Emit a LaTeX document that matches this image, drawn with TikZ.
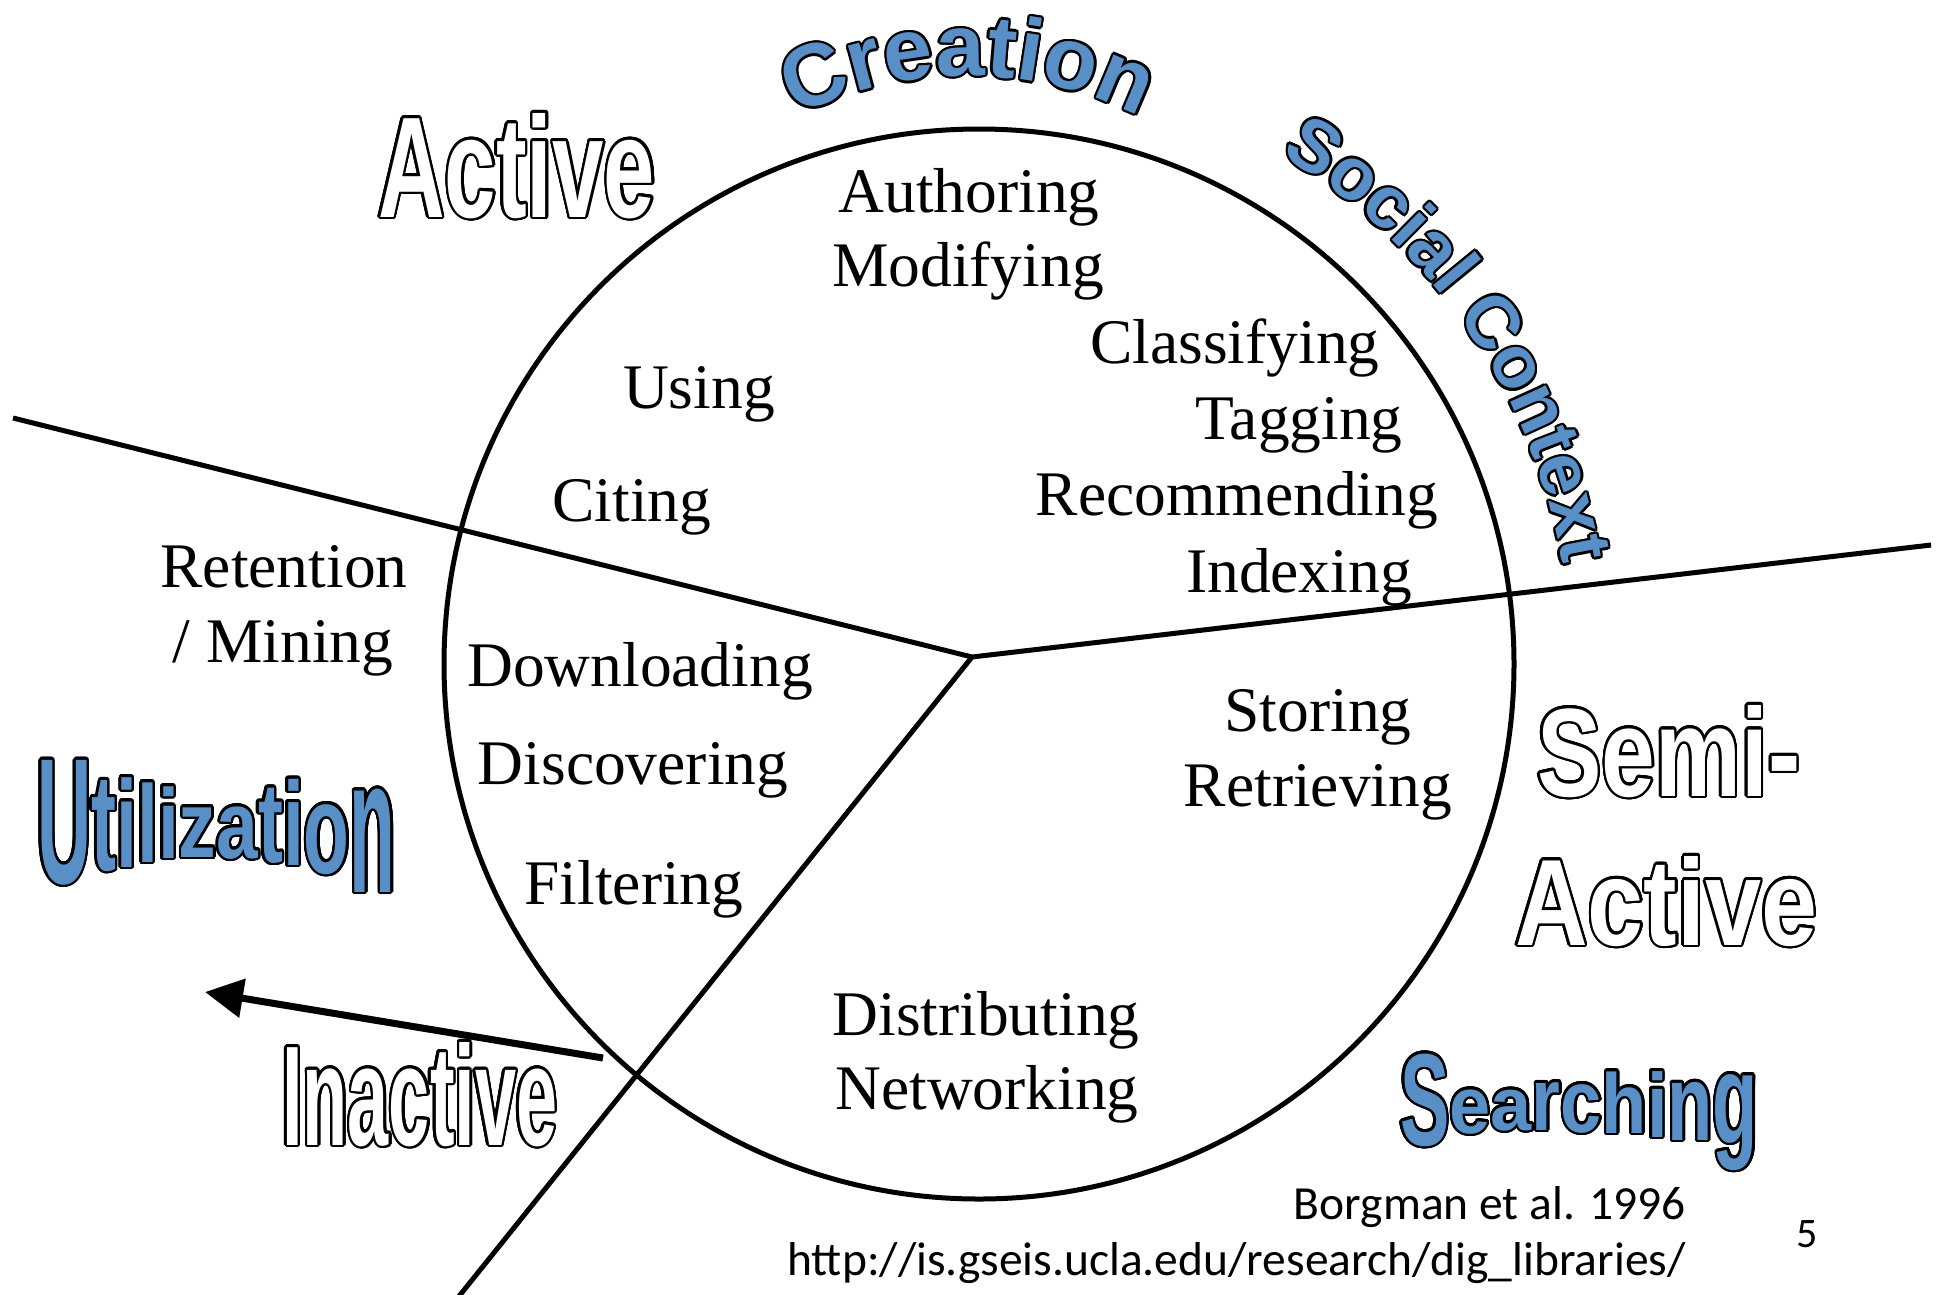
\documentclass[tikz,border=0pt]{standalone}
\usepackage{fontspec}
\setmainfont{Liberation Serif}
\newfontfamily\wafont{Liberation Sans}
\newfontfamily\calfont{Carlito}
\usepackage{graphicx}
\usepackage[copies]{contour}
\usetikzlibrary{decorations.text,arrows.meta}
\definecolor{cblue}{RGB}{88,143,199}
\contournumber{24}
\contourlength{2.4pt}
\newcommand\crfont{\wafont\bfseries\fontsize{88}{88}\selectfont}
\newcommand\scfont{\wafont\bfseries\fontsize{74}{74}\selectfont}
\newcommand\wavefont{\wafont\bfseries\fontsize{100}{100}\selectfont}
\newcommand\ultr[3]{\raisebox{#3pt}{\scalebox{0.75}[#2]{#1}}}
\newcommand\srtr[3]{\raisebox{#3pt}{\scalebox{0.74}[#2]{#1}}}
\newcommand\utilword{\wavefont\ultr{U}{1.79}{-23}\ultr{t}{1.38}{-10}\ultr{i}{1.24}{-7}\ultr{l}{1.10}{-2}\ultr{i}{0.99}{2}\ultr{z}{0.94}{3}\ultr{a}{0.96}{2}\ultr{t}{1.14}{-2}\ultr{i}{1.19}{-5}\ultr{o}{1.28}{-13}\ultr{n}{1.92}{-32}}
\newcommand\searchword{\wavefont\srtr{S}{1.31}{-10}\srtr{e}{0.81}{2}\srtr{a}{0.75}{5}\srtr{r}{0.89}{5}\srtr{c}{0.89}{3}\srtr{h}{0.85}{2}\srtr{i}{0.91}{-2}\srtr{n}{1.08}{-5}\srtr{g}{1.28}{-8}}
\newcommand\outw[3]{\textcolor{white}{\contour{black}{\resizebox{#2pt}{#3pt}{\wafont\bfseries #1}}}}
\begin{document}
\begin{tikzpicture}[x=1pt,y=-1pt,
  lbl/.style={anchor=base, inner sep=0pt, font=\fontsize{63.5}{74}\selectfont},
  divline/.style={line width=5pt, line join=miter},
  wa/.style={anchor=base west, inner sep=0pt},
  note/.style={anchor=base east, inner sep=0pt, font=\calfont\fontsize{47.5}{57}\selectfont}]
\fill[white] (0,0) rectangle (1941,1294);
\useasboundingbox (0,0) rectangle (1941,1294);

% circle and dividing lines
\node[draw, circle, line width=5pt, minimum size=1070pt, inner sep=0pt] (wheel) at (979,664) {};
\coordinate (hub) at (972,657);
\coordinate (westEnd) at (13,418);
\coordinate (eastEnd) at (1931,545);
\coordinate (southEnd) at (456,1300);
\draw[divline] (westEnd) -- (hub) -- (eastEnd);
\draw[divline] (hub) -- (southEnd);

% arrow
\coordinate (arrTail) at (603,1058);
\coordinate (arrTip) at (205,992);
\draw[line width=7pt, -{Triangle[length=38pt,width=38pt]}] (arrTail) -- (arrTip);

% labels inside
\node[lbl] (authoring) at (969,212) {Authoring};
\node[lbl] (modifying) at (968,286) {Modifying};
\node[lbl] (using) at (699,408) {Using};
\node[lbl] (citing) at (632,521) {Citing};
\node[lbl] (classifying) at (1235,363) {Classifying};
\node[lbl] (tagging) at (1299,439) {Tagging};
\node[lbl] (recommending) at (1237,515) {Recommending};
\node[lbl] (indexing) at (1299,592) {Indexing};
\node[lbl] (retention) at (284,587) {Retention};
\node[lbl] (mining) at (283,662) {/ Mining};
\node[lbl] (downloading) at (640,686) {Downloading};
\node[lbl] (discovering) at (633,784) {Discovering};
\node[lbl] (filtering) at (634,904) {Filtering};
\node[lbl] (storing) at (1318,731) {Storing};
\node[lbl] (retrieving) at (1318,806) {Retrieving};
\node[lbl] (distributing) at (986,1035) {Distributing};
\node[lbl] (networking) at (987,1109) {Networking};

% outlined words
\node[wa] (activeA) at (378,217) {\outw{Active}{277}{104}};
\node[wa] (inactive) at (282,1145) {\outw{Inactive}{275}{103}};
\node[wa] (semi) at (1537,796) {\outw{Semi-}{263}{91}};
\node[wa] (activeB) at (1515,945) {\outw{Active}{302}{89}};

% curved blue words
\foreach \a in {0,30,...,330}{
  \path[shift={(\a:2.4)}, decorate, decoration={text along path, text align=center, text color=black, text={|\crfont|Creation}}]
    (968,456) ++(-130:380) arc[start angle=-130, end angle=-50, radius=380];
  \path[shift={(\a:2.4)}, decorate, decoration={text along path, text align=center, text color=black, text={|\scfont|Social Context}}]
    (979,664) ++(-66:592) arc[start angle=-66, end angle=-3, radius=592];
}
\path[decorate, decoration={text along path, text align=center, text color=cblue, text={|\crfont|Creation}}]
  (968,456) ++(-130:380) arc[start angle=-130, end angle=-50, radius=380];
\path[decorate, decoration={text along path, text align=center, text color=cblue, text={|\scfont|Social Context}}]
  (979,664) ++(-66:592) arc[start angle=-66, end angle=-3, radius=592];

% wave blue words
\node[wa] (utilization) at (37,860) {\textcolor{cblue}{\contour{black}{\utilword}}};
\node[wa] (searching) at (1400,1135) {\textcolor{cblue}{\contour{black}{\searchword}}};

% citation
\node[note] (borgman) at (1686,1219) {Borgman et al. 1996};
\node[note] (url) at (1686,1275) {http://is.gseis.ucla.edu/research/dig\_libraries/};
\node[anchor=base, inner sep=0pt, font=\calfont\fontsize{42}{50}\selectfont] (pagenum) at (1807,1247) {5};
\end{tikzpicture}
\end{document}
